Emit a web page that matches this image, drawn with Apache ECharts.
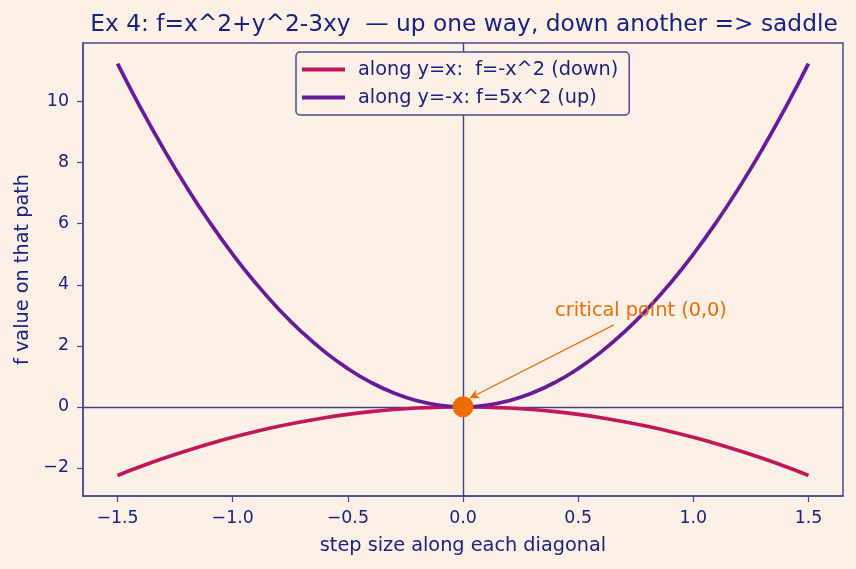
<!DOCTYPE html>
<html>
<head>
<meta charset="utf-8">
<script src="https://cdn.jsdelivr.net/npm/echarts@6/dist/echarts.min.js"></script>
<style>
html,body{margin:0;padding:0;background:#FDF1E7;}
#chart{width:856px;height:569px;}
</style>
</head>
<body>
<div id="chart"></div>
<script>
// step size along each diagonal
const steps = [-1.5,-1.4,-1.3,-1.2,-1.1,-1.0,-0.9,-0.8,-0.7,-0.6,-0.5,-0.4,-0.3,-0.2,-0.1,0,
  0.1,0.2,0.3,0.4,0.5,0.6,0.7,0.8,0.9,1.0,1.1,1.2,1.3,1.4,1.5];
// along y=x : f = -x^2
const downVals = [-2.25,-1.96,-1.69,-1.44,-1.21,-1.0,-0.81,-0.64,-0.49,-0.36,-0.25,-0.16,-0.09,-0.04,-0.01,0,
  -0.01,-0.04,-0.09,-0.16,-0.25,-0.36,-0.49,-0.64,-0.81,-1.0,-1.21,-1.44,-1.69,-1.96,-2.25];
// along y=-x : f = 5x^2
const upVals = [11.25,9.8,8.45,7.2,6.05,5.0,4.05,3.2,2.45,1.8,1.25,0.8,0.45,0.2,0.05,0,
  0.05,0.2,0.45,0.8,1.25,1.8,2.45,3.2,4.05,5.0,6.05,7.2,8.45,9.8,11.25];
const critical = [0, 0];
const xTicks = [-1.5,-1.0,-0.5,0.0,0.5,1.0,1.5];
const yTicks = [-2,0,2,4,6,8,10];
const seriesNames = ['along y=x:  f=-x^2 (down)', 'along y=-x: f=5x^2 (up)'];
const titleText = 'Ex 4: f=x^2+y^2-3xy  \u2014 up one way, down another => saddle';
const annotText = 'critical point (0,0)';

const INK = '#1A237E';
const FRAME = '#464C90';
const FONT = 'DejaVu Sans';
const LBL = 19.3;
const TCK = 17.4;
const minus = s => s.replace('-', '\u2212');

const chart = echarts.init(document.getElementById('chart'), null, {renderer: 'canvas'});
const pairs = (xs, ys) => xs.map((x, i) => [x, ys[i]]);

chart.setOption({
  backgroundColor: '#FDF1E7',
  animation: false,
  textStyle: {fontFamily: FONT},
  title: {
    text: titleText,
    left: 459, top: 8, textAlign: 'center',
    textStyle: {color: INK, fontSize: 23.3, fontWeight: 'normal', fontFamily: FONT}
  },
  grid: {
    left: 83, right: 13, top: 43, bottom: 73,
    show: true, borderColor: FRAME, borderWidth: 1.5, backgroundColor: 'transparent'
  },
  legend: {
    orient: 'vertical', left: 296, top: 52,
    padding: [7, 11, 7, 6],
    backgroundColor: '#FDF1E7',
    borderColor: FRAME, borderWidth: 1.5, borderRadius: 4,
    itemWidth: 43, itemHeight: 4, itemGap: 7,
    icon: 'rect',
    textStyle: {color: INK, fontSize: LBL, fontFamily: FONT, lineHeight: 21, padding: [0,0,0,8]},
    data: seriesNames
  },
  xAxis: {
    type: 'value', min: -1.65, max: 1.65,
    name: 'step size along each diagonal', nameLocation: 'middle', nameGap: 40,
    nameTextStyle: {color: INK, fontSize: LBL, fontFamily: FONT},
    axisLine: {show: true, onZero: false, lineStyle: {color: FRAME, width: 1.5}},
    axisTick: {show: true, length: 6, lineStyle: {color: FRAME, width: 1.2}, customValues: xTicks},
    axisLabel: {color: INK, fontSize: TCK, fontFamily: FONT, margin: 14, customValues: xTicks,
      formatter: v => minus(v.toFixed(1))},
    splitLine: {show: false}
  },
  yAxis: {
    type: 'value', min: -2.925, max: 11.925,
    name: 'f value on that path', nameLocation: 'middle', nameGap: 51, nameRotate: 90,
    nameTextStyle: {color: INK, fontSize: LBL, fontFamily: FONT},
    axisLine: {show: true, onZero: false, lineStyle: {color: FRAME, width: 1.5}},
    axisTick: {show: true, length: 6, lineStyle: {color: FRAME, width: 1.2}, customValues: yTicks},
    axisLabel: {color: INK, fontSize: TCK, fontFamily: FONT, margin: 14, customValues: yTicks,
      formatter: v => minus(String(v))},
    splitLine: {show: false}
  },
  series: [
    {
      name: seriesNames[0], type: 'line', data: pairs(steps, downVals),
      showSymbol: false, smooth: true,
      lineStyle: {color: '#C2185B', width: 3.7}, itemStyle: {color: '#C2185B'}, z: 3,
      markLine: {
        silent: true, symbol: ['none', 'none'], label: {show: false},
        lineStyle: {color: '#3A4190', width: 1.4, type: 'solid'},
        data: [{xAxis: 0}, {yAxis: 0}], z: 1
      }
    },
    {
      name: seriesNames[1], type: 'line', data: pairs(steps, upVals),
      showSymbol: false, smooth: true,
      lineStyle: {color: '#6A1B9A', width: 3.7}, itemStyle: {color: '#6A1B9A'}, z: 4
    },
    {
      name: 'critical', type: 'scatter', data: [critical],
      symbolSize: 21, itemStyle: {color: '#EF6C00', opacity: 1}, z: 6, silent: true,
      markLine: {
        silent: true, symbol: ['none', 'arrow'], symbolSize: [7, 9],
        label: {show: false},
        lineStyle: {color: '#EF6C00', width: 1.2, type: 'solid'},
        data: [[{coord: [0.655, 2.685]}, {coord: [0.03, 0.286]}]]
      },
      markPoint: {
        silent: true, symbol: 'circle', symbolSize: 0,
        data: [{coord: [0.4, 3]}],
        label: {show: true, formatter: annotText, position: [0, 0], align: 'left', verticalAlign: 'bottom',
          offset: [0, 5], color: '#EF6C00', fontSize: LBL, fontFamily: FONT}
      }
    }
  ]
});
</script>
</body>
</html>
